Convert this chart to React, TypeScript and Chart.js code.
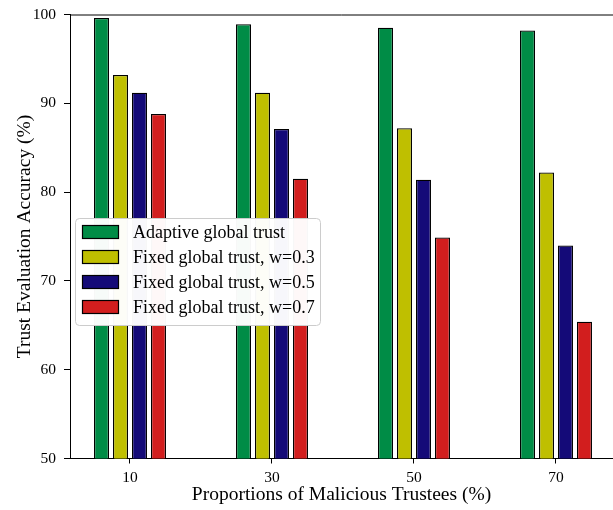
import React, { useEffect, useRef } from 'react';
import { Chart, registerables } from 'chart.js';

Chart.register(...registerables);

const categories = [10, 30, 50, 70];
const seriesNames = [
  'Adaptive global trust',
  'Fixed global trust, w=0.3',
  'Fixed global trust, w=0.5',
  'Fixed global trust, w=0.7',
];
const adaptive = [99.6, 98.9, 98.5, 98.2];
const fixed03 = [93.2, 91.2, 87.2, 82.2];
const fixed05 = [91.2, 87.1, 81.4, 74.0];
const fixed07 = [88.8, 81.5, 74.9, 65.4];
const yTicks = [50, 60, 70, 80, 90, 100];
const colors = ['#008C46', '#BFBF00', '#140A78', '#D21E1E'];

const FONT = '"Liberation Serif", "Times New Roman", serif';

const topSpinePlugin = {
  id: 'topSpine',
  afterDraw(chart: any) {
    const { ctx, chartArea } = chart;
    ctx.save();
    ctx.strokeStyle = '#000';
    ctx.lineWidth = 1;
    ctx.beginPath();
    ctx.moveTo(chartArea.left, chartArea.top + 0.5);
    ctx.lineTo(chartArea.right, chartArea.top + 0.5);
    ctx.stroke();
    ctx.restore();
  },
};

const legendPlugin = {
  id: 'insideLegend',
  afterDatasetsDraw(chart: any) {
    const { ctx, chartArea } = chart;
    const x0 = chartArea.left + 5.5;
    const y0 = 218.5;
    const w = 245;
    const h = 107;
    ctx.save();
    ctx.beginPath();
    ctx.roundRect(x0, y0, w, h, 4);
    ctx.fillStyle = 'rgba(255,255,255,0.97)';
    ctx.fill();
    ctx.strokeStyle = '#cccccc';
    ctx.lineWidth = 1;
    ctx.stroke();
    const datasets = chart.data.datasets;
    datasets.forEach((ds: any, i: number) => {
      const cy = 232 + i * 25;
      ctx.fillStyle = ds.backgroundColor;
      ctx.fillRect(82.5, cy - 6.5, 36, 13);
      ctx.strokeStyle = '#000';
      ctx.lineWidth = 1.2;
      ctx.strokeRect(82.5, cy - 6.5, 36, 13);
      ctx.fillStyle = '#000';
      ctx.font = `18px ${FONT}`;
      ctx.textBaseline = 'middle';
      ctx.textAlign = 'left';
      ctx.fillText(ds.label, 133, cy + 1);
    });
    ctx.restore();
  },
};

export default function App() {
  const ref = useRef<HTMLCanvasElement | null>(null);

  useEffect(() => {
    document.body.style.margin = '0';
    const canvas = ref.current;
    if (!canvas) return;
    const series = [adaptive, fixed03, fixed05, fixed07];
    const chart = new Chart(canvas, {
      type: 'bar',
      data: {
        datasets: series.map((vals, i) => ({
          label: seriesNames[i],
          data: categories.map((c, j) => ({ x: c, y: vals[j] })),
          backgroundColor: colors[i],
          borderColor: '#000',
          borderWidth: 1.3,
          borderSkipped: false,
          categoryPercentage: 0.535,
          barPercentage: 0.79,
        })),
      },
      options: {
        animation: false,
        responsive: false,
        layout: { padding: { top: 14.5, right: 0, left: 0, bottom: 0 } },
        plugins: {
          legend: { display: false },
          tooltip: { enabled: false },
        },
        scales: {
          x: {
            type: 'linear',
            min: 1.55,
            max: 78.03,
            offset: false,
            grid: {
              offset: false,
              drawOnChartArea: false,
              drawTicks: true,
              tickLength: 5,
              tickColor: '#000',
            },
            border: { display: true, color: '#000', width: 1 },
            afterBuildTicks: (scale: any) => {
              scale.ticks = categories.map((v) => ({ value: v }));
            },
            afterFit: (scale: any) => {
              scale.height = 51.5;
              scale.paddingLeft = 0;
              scale.paddingRight = 0;
            },
            ticks: {
              color: '#000',
              font: { family: FONT, size: 15.5 },
              padding: 5,
              maxRotation: 0,
              callback: (v: any) => String(v),
            },
            title: {
              display: true,
              text: 'Proportions of Malicious Trustees (%)',
              color: '#000',
              font: { family: FONT, size: 19.5 },
              padding: { top: 0, bottom: 3 },
            },
          },
          y: {
            min: 50,
            max: 100,
            grid: {
              drawOnChartArea: false,
              drawTicks: true,
              tickLength: 6,
              tickColor: '#000',
            },
            border: { display: true, color: '#000', width: 1 },
            afterBuildTicks: (scale: any) => {
              scale.ticks = yTicks.map((v) => ({ value: v }));
            },
            afterFit: (scale: any) => {
              scale.width = 70;
              scale.paddingTop = 0;
              scale.paddingBottom = 0;
            },
            ticks: {
              color: '#000',
              font: { family: FONT, size: 15.5 },
              padding: 8,
            },
            title: {
              display: true,
              text: 'Trust Evaluation Accuracy (%)',
              color: '#000',
              font: { family: FONT, size: 19.5 },
              padding: { top: 13, bottom: 0 },
            },
          },
        },
      },
      plugins: [topSpinePlugin, legendPlugin],
    });
    return () => chart.destroy();
  }, []);

  return <canvas ref={ref} width={613} height={510} style={{ display: 'block' }} />;
}
